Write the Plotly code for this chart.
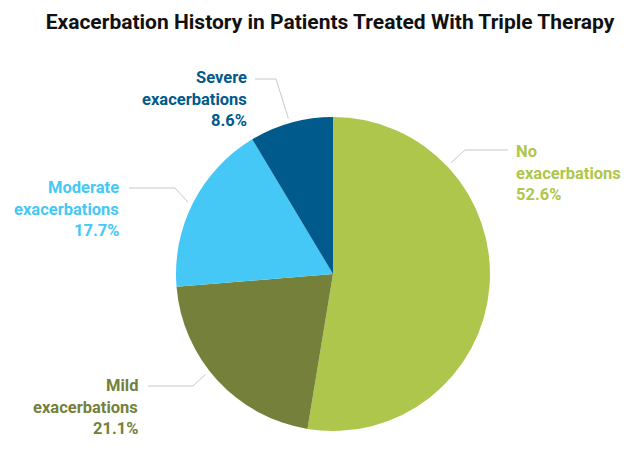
import math
import plotly.graph_objects as go

categories = ["No exacerbations", "Mild exacerbations", "Moderate exacerbations", "Severe exacerbations"]
label_lines = [["No", "exacerbations"], ["Mild", "exacerbations"], ["Moderate", "exacerbations"], ["Severe", "exacerbations"]]
values = [52.6, 21.1, 17.7, 8.6]
colors = ["#AEC64B", "#75813A", "#45C8F5", "#005A8C"]

# the page has an 8px body margin; size the figure so it fits the window without scrolling
OFF = 8
W, H = 631 - 2 * OFF, 451 - 2 * OFF
CX, CY, R = 333, 274, 157

def px(x):
    return (x - OFF) / W

def py(y):
    return 1 - (y - OFF) / H

fig = go.Figure(go.Pie(
    labels=categories, values=values, sort=False, direction="clockwise", rotation=0,
    marker=dict(colors=colors, line=dict(width=0)), textinfo="none", hoverinfo="label+percent",
    domain=dict(x=[px(CX - R), px(CX + R)], y=[py(CY + R), py(CY - R)]),
    showlegend=False,
))

# (anchor x, middle-line y, xanchor, leader angle deg clockwise from top, elbow x, elbow y, line start x)
label_layout = [
    (514, 173, "left", 46.7, 465, 150, 508),
    (140, 407, "right", 231.8, 193, 386, 148),
    (121, 209, "right", 296.4, 175, 188, 129),
    (249, 99, "right", 344.0, 276, 79, 255),
]
LINE_GAP = 21.5

annotations = []
shapes = []
for (lines, v, c, lay) in zip(label_lines, values, colors, label_layout):
    ax, ay, xa, ang, ex, ey, sx = lay
    all_lines = lines + [f"{v:.1f}%"]
    for i, t in enumerate(all_lines):
        annotations.append(dict(
            text=t, x=px(ax), y=py(ay + (i - 1) * LINE_GAP), xref="paper", yref="paper",
            xanchor=xa, yanchor="middle", showarrow=False,
            font=dict(family="Roboto", size=16.5, color=c, weight="bold"),
        ))
    r2 = R + 5
    tx = CX + r2 * math.sin(math.radians(ang))
    ty = CY - r2 * math.cos(math.radians(ang))
    shapes.append(dict(
        type="path", xref="paper", yref="paper",
        path=f"M {px(sx)} {py(ey)} L {px(ex)} {py(ey)} L {px(tx)} {py(ty)}",
        line=dict(color="#C9C9C9", width=1),
    ))

fig.update_layout(
    width=W, height=H, margin=dict(l=0, r=0, t=0, b=0),
    paper_bgcolor="white", plot_bgcolor="white",
    title=dict(text="<b>Exacerbation History in Patients Treated With Triple Therapy</b>",
               x=px(330), xanchor="center", y=py(22), yanchor="middle",
               font=dict(family="Roboto", size=21, color="#111111")),
    annotations=annotations, shapes=shapes,
)

fig.write_html("out.html")
